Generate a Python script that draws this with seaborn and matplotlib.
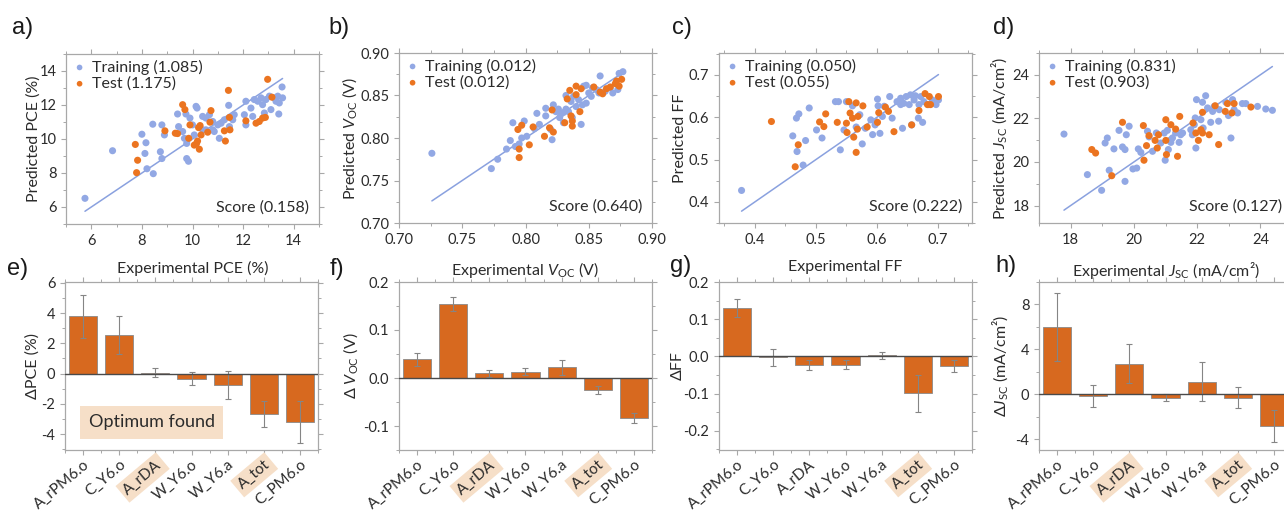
import numpy as np
import pandas as pd
import matplotlib
matplotlib.use("Agg")
import matplotlib.pyplot as plt
import seaborn as sns
from matplotlib.ticker import MultipleLocator, FormatStrFormatter

# ---------------- data ----------------
# a) PCE
pce_train_exp = [5.75, 6.84, 8.00, 8.16, 8.12, 8.20, 8.45, 8.43, 8.79, 8.89, 8.73, 8.79, 9.41, 9.45, 9.74, 9.68,
                 9.77, 9.77, 9.84, 9.90, 10.14, 10.00, 10.07, 10.18, 10.40, 10.53, 10.67, 10.80, 10.80, 11.00,
                 11.13, 11.06, 11.26, 11.43, 11.46, 11.59, 11.65, 12.05, 12.11, 12.11, 12.31, 12.38, 12.44,
                 12.58, 12.71, 12.77, 12.84, 12.90, 13.04, 13.10, 13.23, 13.37, 13.43, 13.41, 13.54, 13.56,
                 13.30, 9.61, 10.53, 10.86, 10.40]
pce_train_pred = [6.51, 9.31, 10.28, 9.78, 9.15, 8.25, 7.96, 10.87, 10.83, 10.24, 9.25, 8.85, 11.47, 10.73, 11.47,
                  10.04, 9.74, 8.85, 8.69, 11.23, 11.92, 10.83, 10.24, 11.82, 11.33, 11.23, 11.43, 11.03, 10.54,
                  10.83, 10.93, 10.04, 11.13, 11.98, 10.73, 11.13, 11.43, 11.43, 10.83, 12.22, 11.82, 11.33,
                  12.32, 12.22, 12.42, 12.02, 11.53, 12.32, 12.52, 11.73, 12.42, 12.52, 12.12, 11.47, 13.06,
                  12.42, 12.22, 10.44, 10.54, 10.44, 10.54]
pce_test_exp = [7.74, 7.83, 7.79, 8.91, 9.32, 9.41, 9.61, 9.70, 9.90, 9.85, 10.07, 10.16, 10.24, 10.20, 10.27,
                10.34, 10.30, 10.60, 10.73, 10.69, 11.26, 11.30, 11.42, 11.46, 11.48, 12.11, 12.51, 12.64,
                12.77, 12.88, 12.97, 13.14]
pce_test_pred = [9.68, 8.75, 8.02, 10.48, 10.34, 10.32, 12.02, 11.73, 10.83, 10.04, 9.64, 9.74, 10.67, 9.88, 9.40,
                 10.24, 10.79, 10.40, 11.67, 10.99, 10.48, 9.88, 12.86, 11.27, 10.54, 11.07, 10.93, 11.03,
                 11.23, 11.27, 13.51, 12.46]

# b) Voc
voc_train_exp = [0.726, 0.773, 0.778, 0.785, 0.788, 0.790, 0.792, 0.795, 0.799, 0.797, 0.801, 0.809, 0.807, 0.811,
                 0.816, 0.820, 0.821, 0.822, 0.824, 0.826, 0.828, 0.830, 0.830, 0.832, 0.832, 0.834, 0.837,
                 0.838, 0.840, 0.842, 0.844, 0.846, 0.848, 0.850, 0.853, 0.856, 0.858, 0.859, 0.863, 0.867,
                 0.869, 0.873, 0.874, 0.877, 0.845, 0.836, 0.827, 0.852, 0.816, 0.848]
voc_train_pred = [0.782, 0.764, 0.775, 0.787, 0.797, 0.818, 0.790, 0.793, 0.820, 0.800, 0.802, 0.829, 0.811, 0.816,
                  0.826, 0.810, 0.798, 0.839, 0.831, 0.834, 0.828, 0.830, 0.818, 0.850, 0.834, 0.831, 0.824,
                  0.849, 0.837, 0.845, 0.816, 0.861, 0.841, 0.853, 0.859, 0.857, 0.853, 0.873, 0.855, 0.859,
                  0.853, 0.857, 0.876, 0.878, 0.839, 0.843, 0.824, 0.849, 0.835, 0.862]
voc_test_exp = [0.794, 0.797, 0.795, 0.795, 0.803, 0.806, 0.815, 0.819, 0.822, 0.821, 0.831, 0.833, 0.835, 0.837,
                0.836, 0.840, 0.840, 0.843, 0.844, 0.854, 0.859, 0.861, 0.864, 0.867, 0.871, 0.874, 0.876,
                0.872, 0.837]
voc_test_pred = [0.810, 0.815, 0.787, 0.777, 0.792, 0.813, 0.802, 0.812, 0.807, 0.833, 0.818, 0.846, 0.856, 0.814,
                 0.826, 0.851, 0.861, 0.831, 0.858, 0.860, 0.854, 0.852, 0.858, 0.860, 0.864, 0.861, 0.869,
                 0.867, 0.820]

# c) FF
ff_train_exp = [0.378, 0.462, 0.469, 0.468, 0.472, 0.479, 0.483, 0.489, 0.501, 0.510, 0.532, 0.537, 0.550, 0.540,
                0.546, 0.560, 0.566, 0.572, 0.576, 0.581, 0.590, 0.593, 0.597, 0.601, 0.602, 0.605, 0.609,
                0.612, 0.621, 0.625, 0.633, 0.639, 0.642, 0.644, 0.648, 0.653, 0.655, 0.657, 0.661, 0.663,
                0.668, 0.669, 0.672, 0.675, 0.677, 0.685, 0.691, 0.697, 0.701, 0.639, 0.598]
ff_train_pred = [0.427, 0.556, 0.519, 0.598, 0.608, 0.487, 0.545, 0.622, 0.570, 0.551, 0.637, 0.637, 0.637, 0.523,
                 0.570, 0.627, 0.577, 0.606, 0.537, 0.574, 0.594, 0.559, 0.582, 0.643, 0.627, 0.562, 0.602,
                 0.626, 0.649, 0.598, 0.637, 0.645, 0.574, 0.633, 0.649, 0.630, 0.653, 0.582, 0.641, 0.651,
                 0.598, 0.630, 0.649, 0.588, 0.637, 0.630, 0.641, 0.630, 0.641, 0.630, 0.590]
ff_test_exp = [0.427, 0.466, 0.471, 0.506, 0.513, 0.516, 0.535, 0.550, 0.551, 0.556, 0.554, 0.560, 0.562, 0.566,
               0.566, 0.569, 0.568, 0.577, 0.584, 0.601, 0.603, 0.614, 0.619, 0.628, 0.657, 0.669, 0.679,
               0.683, 0.686, 0.688, 0.701]
ff_test_pred = [0.590, 0.483, 0.535, 0.589, 0.578, 0.608, 0.588, 0.586, 0.564, 0.610, 0.637, 0.598, 0.553, 0.517,
                0.634, 0.602, 0.572, 0.627, 0.577, 0.588, 0.611, 0.624, 0.614, 0.566, 0.582, 0.616, 0.656,
                0.630, 0.649, 0.630, 0.649]

# d) Jsc
jsc_train_exp = [17.79, 18.53, 18.98, 19.22, 19.09, 19.16, 19.37, 19.53, 19.64, 19.72, 19.76, 19.85, 19.72, 19.97,
                 20.09, 20.14, 20.22, 20.43, 20.48, 20.59, 20.71, 20.85, 20.96, 20.99, 21.06, 21.09, 21.22,
                 21.32, 21.43, 21.48, 21.54, 21.80, 21.85, 21.91, 21.96, 21.98, 22.12, 22.17, 22.19, 22.27,
                 22.33, 22.43, 22.49, 22.54, 22.68, 22.70, 22.91, 22.99, 23.07, 23.12, 23.17, 23.28, 23.43,
                 23.54, 23.91, 24.17, 24.38, 21.94, 21.17]
jsc_train_pred = [21.28, 19.42, 18.70, 19.62, 20.87, 21.10, 20.60, 21.45, 20.69, 20.57, 21.25, 21.64, 19.11, 19.68,
                  19.72, 20.60, 20.44, 21.41, 21.15, 20.49, 21.33, 20.87, 21.33, 20.08, 21.45, 20.57, 21.10,
                  21.33, 20.90, 21.25, 21.33, 21.48, 21.25, 21.71, 20.64, 22.86, 21.94, 22.74, 21.56, 23.04,
                  22.48, 21.82, 22.32, 22.55, 21.87, 22.40, 22.74, 22.13, 21.10, 22.86, 22.40, 22.25, 22.68,
                  22.68, 22.55, 22.43, 22.37, 22.02, 20.90]
jsc_test_exp = [18.67, 18.79, 19.30, 19.64, 20.30, 20.32, 20.40, 20.48, 20.67, 20.74, 20.78, 21.01, 21.01, 21.03,
                21.17, 21.32, 21.38, 21.45, 21.96, 22.04, 22.12, 22.17, 22.38, 22.68, 22.17, 22.57, 22.89,
                22.96, 23.10, 23.17, 23.70, 21.87]
jsc_test_pred = [20.57, 20.41, 19.37, 21.82, 21.67, 20.08, 20.75, 21.21, 20.99, 20.64, 21.25, 21.94, 20.99, 20.34,
                 21.71, 21.51, 20.26, 22.09, 21.33, 20.99, 21.48, 21.33, 21.25, 20.80, 22.28, 22.58, 22.32,
                 22.68, 22.25, 22.68, 22.52, 21.79]

# legend / score values
train_rmse = ["1.085", "0.012", "0.050", "0.831"]
test_rmse = ["1.175", "0.012", "0.055", "0.903"]
scores = ["0.158", "0.640", "0.222", "0.127"]

# bar panels
categories = ["A_rPM6.o", "C_Y6.o", "A_rDA", "W_Y6.o", "W_Y6.a", "A_tot", "C_PM6.o"]
d_pce = [3.78, 2.53, 0.05, -0.33, -0.77, -2.65, -3.20]
d_pce_err = [1.43, 1.27, 0.30, 0.42, 0.92, 0.85, 1.40]
d_voc = [0.039, 0.154, 0.010, 0.013, 0.022, -0.025, -0.083]
d_voc_err = [0.013, 0.015, 0.007, 0.007, 0.015, 0.008, 0.011]
d_ff = [0.131, -0.003, -0.023, -0.023, 0.003, -0.099, -0.025]
d_ff_err = [0.024, 0.022, 0.014, 0.012, 0.010, 0.050, 0.016]
d_jsc = [6.00, -0.15, 2.74, -0.30, 1.12, -0.30, -2.80]
d_jsc_err = [3.00, 0.95, 1.75, 0.30, 1.75, 0.93, 1.45]
highlight_e = ["A_rDA", "A_tot"]
highlight_f = ["A_rDA", "A_tot"]
highlight_g = ["A_tot"]
highlight_h = ["A_rDA", "A_tot"]

# ---------------- style ----------------
sns.set_theme(style="white")
plt.rcParams["font.family"] = ["Lato", "DejaVu Sans"]
plt.rcParams["mathtext.fontset"] = "custom"
plt.rcParams["mathtext.rm"] = "Lato"
plt.rcParams["mathtext.it"] = "Lato:italic"
plt.rcParams["axes.unicode_minus"] = False

BLUE = "#92a8e4"
LINE = "#8aa1df"
ORANGE = "#eb7420"
BAR = "#d7691f"
HL = "#f6dfc8"
TXT = "#2b2b2b"
FRAME = "#a8a8a8"

fig = plt.figure(figsize=(12.84, 5.15), dpi=100)
W, H = 1284, 515


def ax_at(left_px, top_px, w_px, h_px):
    return fig.add_axes([left_px / W, 1 - (top_px + h_px) / H, w_px / W, h_px / H])


def style_frame(ax):
    for s in ax.spines.values():
        s.set_color(FRAME)
        s.set_linewidth(0.9)
    ax.tick_params(which="both", direction="out", top=True, right=True, bottom=True, left=True,
                   labeltop=False, labelright=False, colors=FRAME, labelcolor=TXT, labelsize=10.5)
    ax.tick_params(which="major", length=3.5, width=0.8)
    ax.tick_params(which="minor", length=2, width=0.7)


tops = [(66, 54), (399, 53), (719, 53), (1039, 53)]
AW, AH = 253, 170

scatter_sets = [
    (pce_train_exp, pce_train_pred, pce_test_exp, pce_test_pred),
    (voc_train_exp, voc_train_pred, voc_test_exp, voc_test_pred),
    (ff_train_exp, ff_train_pred, ff_test_exp, ff_test_pred),
    (jsc_train_exp, jsc_train_pred, jsc_test_exp, jsc_test_pred),
]
lims = [((5, 15), (5, 15)), ((0.70, 0.90), (0.70, 0.90)), ((0.341, 0.756), (0.35, 0.752)), ((17, 25), (17.2, 25))]
major = [2, 0.05, 0.1, 2]
fmts = ["%d", "%.2f", "%.1f", "%d"]
xlabels = ["Experimental PCE (%)", r"Experimental $V_{\mathrm{OC}}$ (V)", "Experimental FF",
           r"Experimental $J_{\mathrm{SC}}$ (mA/cm²)"]
ylabels = ["Predicted PCE (%)", r"Predicted $V_{\mathrm{OC}}$ (V)", "Predicted FF",
           r"Predicted $J_{\mathrm{SC}}$ (mA/cm²)"]
ylab_x = [-0.099, -0.158, -0.126, -0.119]

for i, (l, t) in enumerate(tops):
    ax = ax_at(l, t, AW, AH)
    tx, ty, sx, sy = scatter_sets[i]
    lo = min(min(tx), min(sx))
    hi = max(max(tx), max(sx))
    ident = pd.DataFrame({"x": [lo, hi], "y": [lo, hi]})
    sns.lineplot(data=ident, x="x", y="y", color=LINE, lw=1.1, ax=ax, zorder=1)
    sns.scatterplot(x=tx, y=ty, color=BLUE, s=26, edgecolor="none", ax=ax, zorder=2,
                    label=f"Training ({train_rmse[i]})")
    sns.scatterplot(x=sx, y=sy, color=ORANGE, s=26, edgecolor="none", ax=ax, zorder=3,
                    label=f"Test ({test_rmse[i]})")
    ax.set_xlim(*lims[i][0])
    ax.set_ylim(*lims[i][1])
    ax.xaxis.set_major_locator(MultipleLocator(major[i]))
    ax.yaxis.set_major_locator(MultipleLocator(major[i]))
    ax.xaxis.set_minor_locator(MultipleLocator(major[i] / 2))
    ax.yaxis.set_minor_locator(MultipleLocator(major[i] / 2))
    ax.xaxis.set_major_formatter(FormatStrFormatter(fmts[i]))
    ax.yaxis.set_major_formatter(FormatStrFormatter(fmts[i]))
    style_frame(ax)
    ax.set_xlabel(xlabels[i], fontsize=11.5, color=TXT)
    ax.set_ylabel(ylabels[i], fontsize=11.5, color=TXT)
    ax.xaxis.set_label_coords(0.5, -0.215)
    ax.yaxis.set_label_coords(ylab_x[i], 0.5)
    leg = ax.legend(loc="upper left", frameon=False, fontsize=11.5, handletextpad=0.3,
                    labelspacing=0.12, borderaxespad=0.15, handlelength=1.0, markerscale=0.8,
                    borderpad=0.2)
    for txt in leg.get_texts():
        txt.set_color(TXT)
    ax.text(0.962, 0.055, f"Score ({scores[i]})", transform=ax.transAxes, ha="right", va="bottom",
            fontsize=11.5, color=TXT)

# ---------------- bar panels ----------------
bottoms = [(65, 282), (399, 282), (719, 282), (1039, 282)]
BH = 168
bar_sets = [(d_pce, d_pce_err, highlight_e), (d_voc, d_voc_err, highlight_f),
            (d_ff, d_ff_err, highlight_g), (d_jsc, d_jsc_err, highlight_h)]
bar_ylims = [(-5.05, 6.05), (-0.15, 0.2), (-0.252, 0.2), (-4.95, 10)]
bar_major = [2, 0.1, 0.1, 4]
bar_fmt = ["%d", "%.1f", "%.1f", "%d"]
bar_ylabels = ["ΔPCE (%)", r"Δ $V_{\mathrm{OC}}$ (V)", "ΔFF", r"Δ$J_{\mathrm{SC}}$ (mA/cm²)"]
bar_ylab_x = [-0.099, -0.154, -0.134, -0.115]

for i, (l, t) in enumerate(bottoms):
    ax = ax_at(l, t, AW, BH)
    vals, errs, hl = bar_sets[i]
    df = pd.DataFrame({"cat": categories, "val": vals})
    sns.barplot(data=df, x="cat", y="val", color=BAR, saturation=1, width=0.78, errorbar=None,
                edgecolor="#8a8a8a", linewidth=0.6, ax=ax, zorder=2)
    ax.errorbar(np.arange(len(categories)), vals, yerr=errs, fmt="none", ecolor="#858585",
                elinewidth=0.8, capsize=2, capthick=0.8, zorder=3)
    ax.axhline(0, color="#4a4a4a", lw=1.0, zorder=4)
    ax.set_xlim(-0.5, len(categories) - 0.5)
    ax.set_ylim(*bar_ylims[i])
    ax.yaxis.set_major_locator(MultipleLocator(bar_major[i]))
    ax.yaxis.set_minor_locator(MultipleLocator(bar_major[i] / 2))
    ax.xaxis.set_minor_locator(MultipleLocator(0.5))
    ax.yaxis.set_major_formatter(FormatStrFormatter(bar_fmt[i]))
    style_frame(ax)
    ax.set_xlabel("")
    ax.set_ylabel(bar_ylabels[i], fontsize=11.5, color=TXT)
    ax.yaxis.set_label_coords(bar_ylab_x[i], 0.5)
    ax.set_xticks(np.arange(len(categories)))
    ax.set_xticklabels(categories, rotation=40, ha="right", rotation_mode="anchor", fontsize=11)
    ax.tick_params(axis="x", which="major", pad=2)
    for lab in ax.get_xticklabels():
        if lab.get_text() in hl:
            lab.set_bbox(dict(boxstyle="square,pad=0.25", fc=HL, ec="none"))
    if i == 0:
        ax.text(0.342, 0.164, "Optimum found", transform=ax.transAxes, ha="center", va="center",
                fontsize=13, color=TXT, bbox=dict(boxstyle="square,pad=0.45", fc=HL, ec="none"))

# panel letters
letters = [("a)", 12, 28), ("b)", 328, 28), ("c)", 672, 28), ("d)", 993, 28),
           ("e)", 7, 269), ("f)", 330, 269), ("g)", 670, 266), ("h)", 995, 266)]
for s, x, y in letters:
    fig.text(x / W, 1 - y / H, s, fontsize=17, family="Liberation Sans", color="#1a1a1a",
             ha="left", va="center")

fig.savefig("out.png", dpi=100, facecolor="white")
